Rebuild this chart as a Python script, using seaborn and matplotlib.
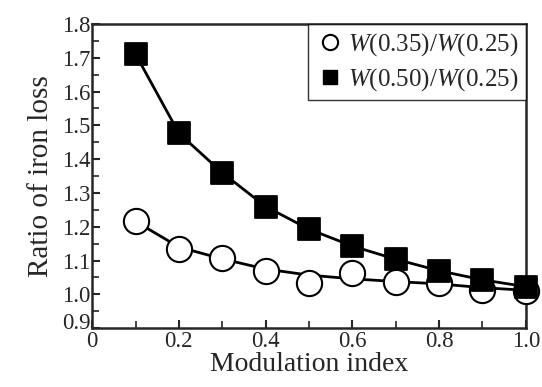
import matplotlib

matplotlib.use("Agg")
import matplotlib.pyplot as plt
import matplotlib.transforms as mtransforms
from matplotlib.lines import Line2D
import pandas as pd
import seaborn as sns

modulation = [0.1, 0.2, 0.3, 0.4, 0.5, 0.6, 0.7, 0.8, 0.9, 1.0]
ratio_035 = [1.216, 1.135, 1.108, 1.070, 1.035, 1.062, 1.037, 1.033, 1.013, 1.011]
fit_035 = [1.216, 1.140, 1.105, 1.075, 1.057, 1.046, 1.038, 1.031, 1.020, 1.012]
ratio_050 = [1.711, 1.477, 1.360, 1.260, 1.193, 1.143, 1.104, 1.070, 1.043, 1.023]

sns.set_style("ticks")
plt.rcParams["font.family"] = ["Liberation Serif", "DejaVu Serif"]
plt.rcParams["mathtext.fontset"] = "custom"
plt.rcParams["mathtext.it"] = "Liberation Serif:italic"
plt.rcParams["mathtext.rm"] = "Liberation Serif"

df = pd.DataFrame({"m": modulation, "r035": ratio_035, "f035": fit_035, "r050": ratio_050})

fig = plt.figure(figsize=(5.42, 3.87), dpi=100)
ax = fig.add_axes([0.170, 0.152, 0.800, 0.786])

sns.lineplot(data=df, x="m", y="f035", color="black", lw=2, ax=ax, legend=False)
sns.lineplot(data=df, x="m", y="r050", color="black", lw=2, ax=ax, legend=False)
sns.scatterplot(data=df, x="m", y="r035", marker="o", s=330, facecolor="white",
                edgecolor="black", linewidth=1.5, ax=ax, zorder=3, clip_on=False)
sns.scatterplot(data=df, x="m", y="r050", marker="s", s=250, color="black",
                edgecolor="black", ax=ax, zorder=4, clip_on=False)

ax.set_xlim(0, 1.0)
ax.set_ylim(0.9, 1.8)
ax.set_xticks([0, 0.2, 0.4, 0.6, 0.8, 1.0])
ax.set_xticklabels(["0", "0.2", "0.4", "0.6", "0.8", "1.0"])
ax.set_xticks([0.1, 0.3, 0.5, 0.7, 0.9], minor=True)
yt = [0.9 + 0.1 * i for i in range(10)]
ax.set_yticks(yt)
ax.set_yticklabels([f"{v:.1f}" for v in yt])
ax.set_yticks([0.95 + 0.1 * i for i in range(9)], minor=True)
ax.tick_params(direction="in", which="major", length=6, width=1.5, labelsize=16.5)
ax.tick_params(axis="x", which="major", pad=2)
ax.tick_params(axis="y", which="major", pad=1)
ax.tick_params(direction="in", which="minor", length=5, width=1.2)
for sp in ax.spines.values():
    sp.set_linewidth(1.8)

# lift the 0.9 label a little so it sits above the x-axis "0", as in the source
lab = ax.get_yticklabels()[0]
lab.set_transform(lab.get_transform() + mtransforms.ScaledTranslation(0, 5 / 72, fig.dpi_scale_trans))

ax.set_xlabel("Modulation index", fontsize=20, labelpad=0)
ax.set_ylabel("Ratio of iron loss", fontsize=21, labelpad=6)

handles = [
    Line2D([], [], marker="o", ls="none", markersize=11, markerfacecolor="white",
           markeredgecolor="black", markeredgewidth=1.5),
    Line2D([], [], marker="s", ls="none", markersize=10, color="black"),
]
leg = ax.legend(handles, [r"$W$(0.35)/$W$(0.25)", r"$W$(0.50)/$W$(0.25)"],
                loc="upper right", bbox_to_anchor=(1.0, 1.0), fontsize=18,
                frameon=True, fancybox=False, handletextpad=0.1, borderpad=0.3,
                handlelength=1.2, labelspacing=0.3, borderaxespad=0.0)
leg.get_frame().set_edgecolor("black")
leg.get_frame().set_linewidth(1.0)

fig.savefig("out.png", dpi=100)
